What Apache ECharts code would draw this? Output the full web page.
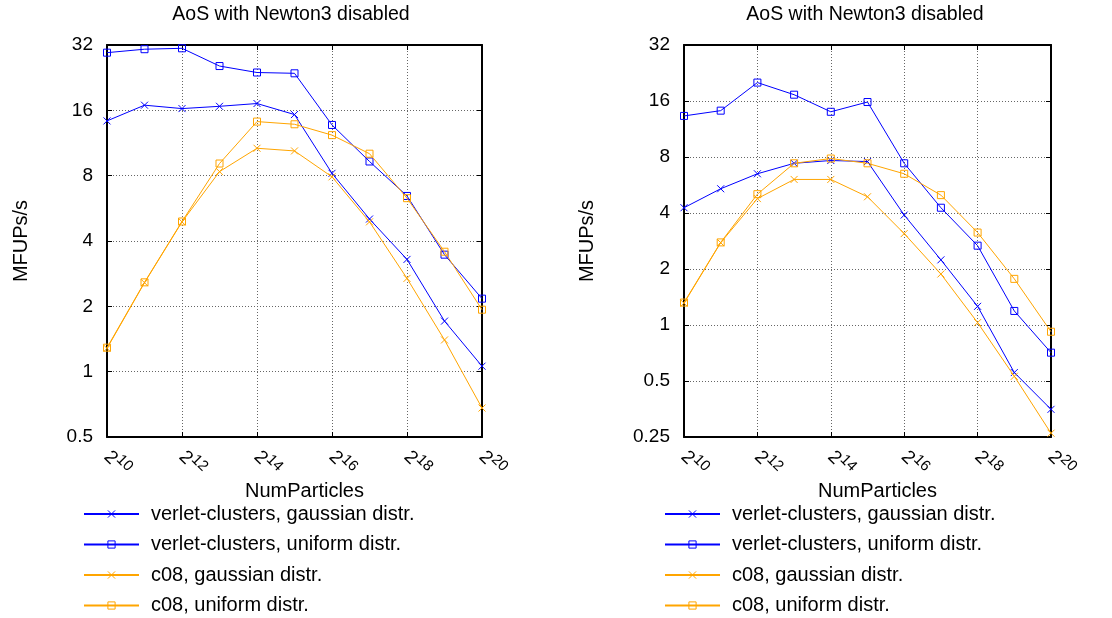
<!DOCTYPE html>
<html><head><meta charset="utf-8">
<script src="https://cdn.jsdelivr.net/npm/echarts@6/dist/echarts.min.js"></script>
<style>html,body{margin:0;padding:0;background:#fff}#c{width:1112px;height:618px}</style>
</head><body><div id="c"></div>
<script>
// x values: exponent n of NumParticles = 2^n
const exponents = [10, 11, 12, 13, 14, 15, 16, 17, 18, 19, 20];
const seriesNames = ['verlet-clusters, gaussian distr.', 'verlet-clusters, uniform distr.', 'c08, gaussian distr.', 'c08, uniform distr.'];
const panelTitles = ['AoS with Newton3 disabled', 'AoS with Newton3 disabled'];
const yTicksLeft = [0.5, 1, 2, 4, 8, 16, 32];
const yTicksRight = [0.25, 0.5, 1, 2, 4, 8, 16, 32];

// Left panel (MFUPs/s)
const leftVcGauss = [14.3, 16.9, 16.3, 16.7, 17.2, 15.3, 8.2, 5.05, 3.29, 1.71, 1.06];
const leftVcUniform = [29.5, 30.6, 30.9, 25.6, 23.9, 23.7, 13.7, 9.3, 6.45, 3.46, 2.17];
const leftC08Gauss = [1.28, 2.57, 4.9, 8.35, 10.7, 10.4, 7.9, 4.9, 2.69, 1.4, 0.68];
const leftC08Uniform = [1.29, 2.58, 4.92, 9.1, 14.2, 13.8, 12.3, 10.1, 6.3, 3.57, 1.93];

// Right panel (MFUPs/s)
const rightVcGauss = [4.27, 5.4, 6.5, 7.4, 7.66, 7.56, 3.9, 2.24, 1.26, 0.555, 0.352];
const rightVcUniform = [13.3, 14.2, 20.1, 17.3, 14.0, 15.8, 7.4, 4.27, 2.67, 1.19, 0.71];
const rightC08Gauss = [1.31, 2.77, 4.78, 6.06, 6.06, 4.89, 3.1, 1.88, 1.03, 0.53, 0.262];
const rightC08Uniform = [1.32, 2.78, 5.05, 7.4, 7.85, 7.4, 6.5, 4.99, 3.14, 1.77, 0.92];

const colors = ['#0000ff', '#0000ff', '#ffa500', '#ffa500'];
const CROSS = 'path://M0,0L10,10M10,0L0,10';
const SQUARE = 'path://M0,0L10,0L10,10L0,10Z';
const symbols = [CROSS, SQUARE, CROSS, SQUARE];
const FONT = '"Liberation Sans", Arial, sans-serif';

const panels = [
  { data: [leftVcGauss, leftVcUniform, leftC08Gauss, leftC08Uniform], yMin: yTicksLeft[0], yMax: yTicksLeft[yTicksLeft.length - 1],
    grid: { left: 107, right: 630, top: 45, bottom: 181 }, nameGap: 76, titleX: 291, legendLeft: 78 },
  { data: [rightVcGauss, rightVcUniform, rightC08Gauss, rightC08Uniform], yMin: yTicksRight[0], yMax: yTicksRight[yTicksRight.length - 1],
    grid: { left: 684, right: 61, top: 45, bottom: 181 }, nameGap: 87, titleX: 865, legendLeft: 659 }
];

const grid = [], xAxis = [], yAxis = [], series = [], legend = [], graphic = [];
const border = { show: true, lineStyle: { color: '#000', width: 2 } };
const tick = { show: true, inside: true, length: 5, lineStyle: { color: '#000', width: 1 } };
const split = { show: true, lineStyle: { color: '#666', width: 1, type: [1, 2] } };

panels.forEach((p, i) => {
  grid.push(p.grid);
  xAxis.push({
    type: 'value', gridIndex: i, min: exponents[0], max: exponents[exponents.length - 1], interval: 2,
    axisLine: border, axisTick: tick, splitLine: split,
    axisLabel: {
      rotate: -45, margin: 17, color: '#000', fontFamily: FONT,
      formatter: v => '{b|2}{s|' + v + '}',
      rich: { b: { fontSize: 19, fontFamily: FONT, color: '#000' }, s: { fontSize: 15, fontFamily: FONT, color: '#000', padding: [0, 0, 12, 0] } }
    },
    name: 'NumParticles', nameLocation: 'middle', nameGap: 44, nameMoveOverlap: false,
    nameTextStyle: { fontSize: 20, color: '#000', fontFamily: FONT, padding: [0, 0, 0, 20] }
  });
  xAxis.push({
    type: 'value', gridIndex: i, position: 'top', min: exponents[0], max: exponents[exponents.length - 1], interval: 2,
    axisLine: border, axisTick: tick, splitLine: { show: false }, axisLabel: { show: false }
  });
  yAxis.push({
    type: 'log', logBase: 2, gridIndex: i, min: p.yMin, max: p.yMax,
    axisLine: border, axisTick: tick, splitLine: split,
    axisLabel: { fontSize: 19, color: '#000', fontFamily: FONT, margin: 14, formatter: v => String(+v.toPrecision(6)) },
    name: 'MFUPs/s', nameLocation: 'middle', nameGap: p.nameGap, nameMoveOverlap: false,
    nameTextStyle: { fontSize: 20, color: '#000', fontFamily: FONT }
  });
  yAxis.push({
    type: 'log', logBase: 2, gridIndex: i, position: 'right', min: p.yMin, max: p.yMax,
    axisLine: border, axisTick: tick, splitLine: { show: false }, axisLabel: { show: false }
  });
  p.data.forEach((vals, s) => {
    series.push({
      type: 'line', name: seriesNames[s], xAxisIndex: 2 * i, yAxisIndex: 2 * i,
      data: exponents.map((e, k) => [e, vals[k]]),
      symbol: symbols[s], symbolSize: 7, showAllSymbol: true,
      lineStyle: { color: colors[s], width: 1 },
      itemStyle: { color: 'none', borderColor: colors[s], borderWidth: 1 },
      emphasis: { disabled: true }, z: 2 + s
    });
  });
  legend.push({
    data: seriesNames, orient: 'vertical', left: p.legendLeft, top: 499, height: 120,
    itemWidth: 55, itemHeight: 9, itemGap: 10.5, selectedMode: false,
    itemStyle: { borderWidth: 1 },
    textStyle: { fontSize: 20, color: '#000', fontFamily: FONT, padding: [0, 0, 0, 7] }
  });
  graphic.push({
    type: 'text', x: p.titleX, y: 15,
    style: { text: panelTitles[i], fontSize: 19.5, fontFamily: FONT, fill: '#000', align: 'center', verticalAlign: 'middle', textAlign: 'center', textVerticalAlign: 'middle' }
  });
});

const chart = echarts.init(document.getElementById('c'), null, { renderer: 'canvas' });
chart.setOption({
  animation: false, backgroundColor: '#fff',
  grid, xAxis, yAxis, series, legend, graphic
});
</script></body></html>
